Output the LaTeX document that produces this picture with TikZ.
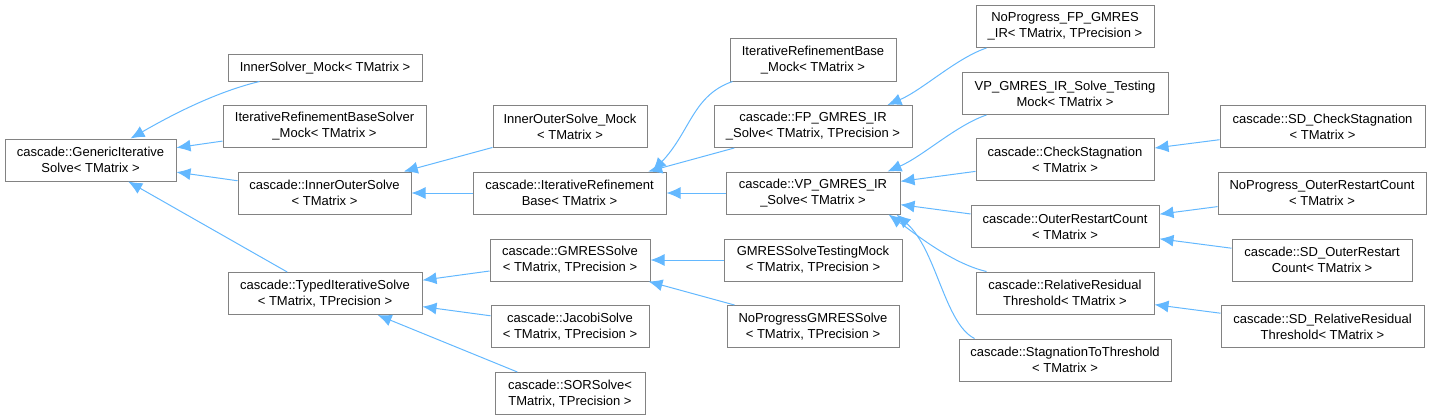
\documentclass[tikz,border=0pt]{standalone}
\usepackage{fontspec}
\setmainfont{Liberation Sans}
\usepackage{tikz}
\usetikzlibrary{arrows.meta, calc}
\definecolor{edgeblue}{RGB}{99, 184, 255}
\definecolor{boxgray}{RGB}{130, 130, 130}

\begin{document}
\begin{tikzpicture}[
    x=1pt, y=-1pt,
    cls/.style={rectangle, draw=boxgray, line width=1pt, fill=white,
                minimum height=42pt, inner sep=2pt, align=center,
                font=\fontsize{13}{16}\selectfont},
    inh/.style={-{Latex[length=14pt, width=12pt, fill=edgeblue]},
                draw=edgeblue, line width=1pt}
]
\useasboundingbox (0,0) rectangle (1432,420);

%% Column 1
\node[cls, minimum width=171pt] (gis) at (90.5,160) {cascade::GenericIterative\\Solve< TMatrix >};

%% Column 2
\node[cls, minimum width=194pt, minimum height=26pt] (ism) at (325,68) {InnerSolver\_Mock< TMatrix >};
\node[cls, minimum width=203pt] (irbsm) at (324.5,126.5) {IterativeRefinementBaseSolver\\\_Mock< TMatrix >};
\node[cls, minimum width=173pt] (ios)   at (324.5,193) {cascade::InnerOuterSolve\\< TMatrix >};
\node[cls, minimum width=194pt] (tis)   at (325,293.5) {cascade::TypedIterativeSolve\\< TMatrix, TPrecision >};

%% Column 3
\node[cls, minimum width=154pt] (iosm)   at (570,126.5) {InnerOuterSolve\_Mock\\< TMatrix >};
\node[cls, minimum width=193pt] (irb)    at (569.5,193) {cascade::IterativeRefinement\\Base< TMatrix >};
\node[cls, minimum width=160pt] (gmres)  at (570,260)   {cascade::GMRESSolve\\< TMatrix, TPrecision >};
\node[cls, minimum width=158pt] (jacobi) at (570,326.5) {cascade::JacobiSolve\\< TMatrix, TPrecision >};
\node[cls, minimum width=150pt] (sor)    at (570,393.5) {cascade::SORSolve<\\TMatrix, TPrecision >};

%% Column 4
\node[cls, minimum width=166pt] (irbm) at (813,60)    {IterativeRefinementBase\\\_Mock< TMatrix >};
\node[cls, minimum width=198pt] (fp)   at (813,126.5) {cascade::FP\_GMRES\_IR\\\_Solve< TMatrix, TPrecision >};
\node[cls, minimum width=174pt] (vp)   at (813,193)   {cascade::VP\_GMRES\_IR\\\_Solve< TMatrix >};
\node[cls, minimum width=178pt] (gtm)  at (813,260)   {GMRESSolveTestingMock\\< TMatrix, TPrecision >};
\node[cls, minimum width=172pt] (npg)  at (813,326.5) {NoProgressGMRESSolve\\< TMatrix, TPrecision >};

%% Column 5
\node[cls, minimum width=178pt] (npfp) at (1065,26.5)  {NoProgress\_FP\_GMRES\\\_IR< TMatrix, TPrecision >};
\node[cls, minimum width=206pt] (vptm) at (1065,93.5)  {VP\_GMRES\_IR\_Solve\_Testing\\Mock< TMatrix >};
\node[cls, minimum width=178pt] (cs)   at (1065,159.5) {cascade::CheckStagnation\\< TMatrix >};
\node[cls, minimum width=188pt] (orc)  at (1065,226.5) {cascade::OuterRestartCount\\< TMatrix >};
\node[cls, minimum width=178pt] (rrt)  at (1065,293)   {cascade::RelativeResidual\\Threshold< TMatrix >};
\node[cls, minimum width=212pt] (stt)  at (1065,360)   {cascade::StagnationToThreshold\\< TMatrix >};

%% Column 6
\node[cls, minimum width=205pt] (sdcs)  at (1322.5,126.5) {cascade::SD\_CheckStagnation\\< TMatrix >};
\node[cls, minimum width=208pt] (nporc) at (1322,193)     {NoProgress\_OuterRestartCount\\< TMatrix >};
\node[cls, minimum width=180pt] (sdorc) at (1322,260)     {cascade::SD\_OuterRestart\\Count< TMatrix >};
\node[cls, minimum width=203pt] (sdrrt) at (1322.5,326.5) {cascade::SD\_RelativeResidual\\Threshold< TMatrix >};

%% Straight inheritance edges
\draw[inh] (irbsm) -- (gis);
\draw[inh] (ios) -- (gis);
\draw[inh] (tis) -- (gis);
\draw[inh] (iosm) -- (ios);
\draw[inh] (irb) -- (ios);
\draw[inh] (fp) -- (irb);
\draw[inh] (vp) -- (irb);
\draw[inh] (cs) -- (vp);
\draw[inh] (orc) -- (vp);
\draw[inh] (sdcs) -- (cs);
\draw[inh] (nporc) -- (orc);
\draw[inh] (sdorc) -- (orc);
\draw[inh] (sdrrt) -- (rrt);
\draw[inh] (gmres) -- (tis);
\draw[inh] (jacobi) -- (tis);
\draw[inh] (sor) -- (tis);
\draw[inh] (gtm) -- (gmres);
\draw[inh] (npg) -- (gmres);

%% Curved inheritance edges
\draw[inh] ([xshift=32pt]ism.south west) .. controls +(-50,12) and +(30,-17) .. ([xshift=40pt]gis.north);
\draw[inh] ([xshift=3pt]irbm.south west) .. controls +(-40,14) and +(38,-40) .. ([xshift=-14pt]irb.north east);
\draw[inh] ([xshift=11pt]npfp.south west) .. controls +(-30,10) and +(35,-15) .. ([xshift=-25pt]fp.north east);
\draw[inh] ([xshift=25pt]vptm.south west) .. controls +(-30,10) and +(35,-15) .. ([xshift=-13pt]vp.north east);
\draw[inh] ([xshift=11pt]rrt.north west) .. controls +(-35,-8) and +(25,18) .. ([xshift=-12pt]vp.south east);
\draw[inh] ([xshift=16pt]stt.north west) .. controls +(-30,-15) and +(40,35) .. ([xshift=-4pt]vp.south east);

\end{tikzpicture}
\end{document}
